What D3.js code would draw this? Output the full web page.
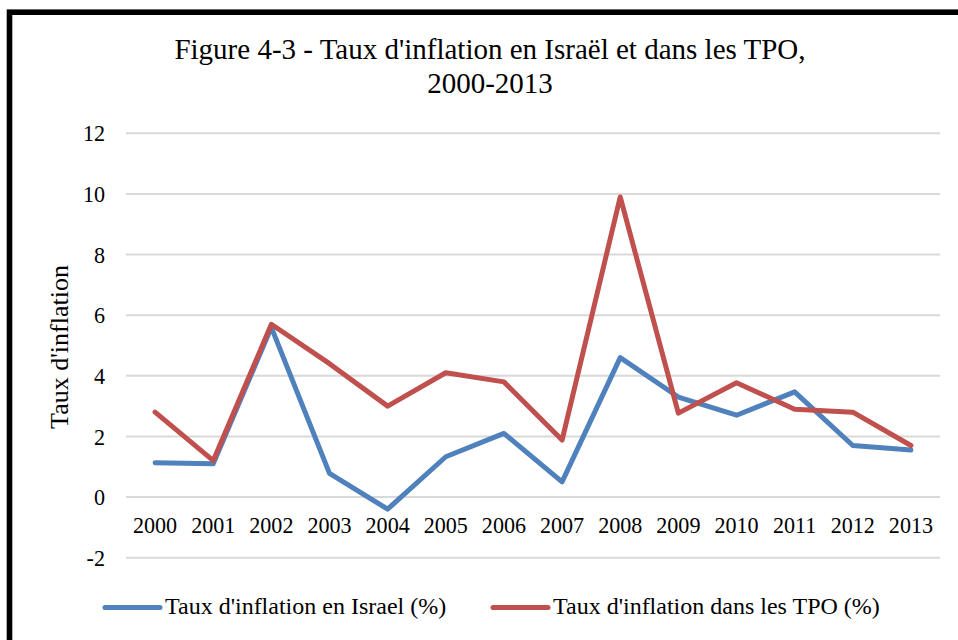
<!DOCTYPE html>
<html>
<head>
<meta charset="utf-8">
<script src="https://cdn.jsdelivr.net/npm/d3@7"></script>
<style>
  html, body { margin: 0; padding: 0; background: #fff; }
  svg { display: block; }
  text { font-family: "Liberation Serif", "Times New Roman", serif; fill: #000; }
</style>
</head>
<body>
<svg id="chart" width="958" height="640"></svg>
<script>
const years = ["2000","2001","2002","2003","2004","2005","2006","2007","2008","2009","2010","2011","2012","2013"];
const israel = [1.13, 1.1, 5.6, 0.78, -0.4, 1.33, 2.1, 0.5, 4.6, 3.3, 2.7, 3.47, 1.7, 1.55];
const tpo = [2.8, 1.2, 5.7, 4.4, 3.0, 4.1, 3.8, 1.88, 9.9, 2.77, 3.77, 2.9, 2.8, 1.7];
const yTicks = [-2, 0, 2, 4, 6, 8, 10, 12];
const seriesNames = ["Taux d'inflation en Israel (%)", "Taux d'inflation dans les TPO (%)"];
const colors = ["#4F81BD", "#C0504D"];
const titleLines = ["Figure 4-3 - Taux d'inflation en Israël et dans les TPO,", "2000-2013"];
const yTitle = "Taux d'inflation";

const svg = d3.select("#chart");

// frame
svg.append("rect").attr("x", 9.5).attr("y", 12.2).attr("width", 1000).attr("height", 700)
  .attr("fill", "none").attr("stroke", "#000").attr("stroke-width", 5.6);

const left = 126, right = 940;
const x = d3.scaleBand().domain(years).range([left, right]);
const y = d3.scaleLinear().domain([-2, 12]).range([557.7, 133.3]);

// grid
const grid = svg.append("g");
grid.selectAll("line").data(yTicks).join("line")
  .attr("x1", left).attr("x2", right)
  .attr("y1", d => y(d)).attr("y2", d => y(d))
  .attr("stroke", "#D9D9D9").attr("stroke-width", 2);

function squeeze(sel, f) {
  sel.each(function() {
    const w = this.getComputedTextLength();
    this.setAttribute("textLength", w * f);
    this.setAttribute("lengthAdjust", "spacingAndGlyphs");
  });
}

// y axis labels
const yAxis = d3.axisLeft(y).tickValues(yTicks).tickSize(0).tickPadding(0).tickFormat(d => String(d));
const gy = svg.append("g").attr("transform", "translate(105,0)").call(yAxis);
gy.select(".domain").remove();
gy.selectAll("text").attr("font-size", 24).attr("font-family", "Liberation Serif").attr("fill", "#000");
squeeze(gy.selectAll("text"), 0.92);

// x axis labels
const xAxis = d3.axisBottom(x).tickSize(0).tickPadding(0);
const gx = svg.append("g").attr("transform", "translate(0,516)").call(xAxis);
gx.select(".domain").remove();
gx.selectAll("text").attr("font-size", 24).attr("font-family", "Liberation Serif").attr("fill", "#000")
  .attr("dy", "0.71em");
squeeze(gx.selectAll("text"), 0.92);

// lines
const line = d3.line().x((d, i) => x(years[i]) + x.bandwidth() / 2).y(d => y(d));
[israel, tpo].forEach((s, k) => {
  svg.append("path").datum(s).attr("d", line)
    .attr("fill", "none").attr("stroke", colors[k]).attr("stroke-width", 5)
    .attr("stroke-linejoin", "round").attr("stroke-linecap", "round");
});

// title
svg.append("text").attr("x", 490).attr("y", 59).attr("text-anchor", "middle")
  .attr("font-size", 29).text(titleLines[0]);
svg.append("text").attr("x", 490).attr("y", 93).attr("text-anchor", "middle")
  .attr("font-size", 29).text(titleLines[1]);

// y title
svg.append("text").attr("transform", "translate(68,347) rotate(-90)").attr("text-anchor", "middle")
  .attr("font-size", 26).text(yTitle);

// legend
const legX = [105, 493];
seriesNames.forEach((n, k) => {
  svg.append("line").attr("x1", legX[k]).attr("x2", legX[k] + 55).attr("y1", 607.5).attr("y2", 607.5)
    .attr("stroke", colors[k]).attr("stroke-width", 5).attr("stroke-linecap", "round");
  svg.append("text").attr("x", legX[k] + 60).attr("y", 614).attr("font-size", 24).text(n);
});
</script>
</body>
</html>
